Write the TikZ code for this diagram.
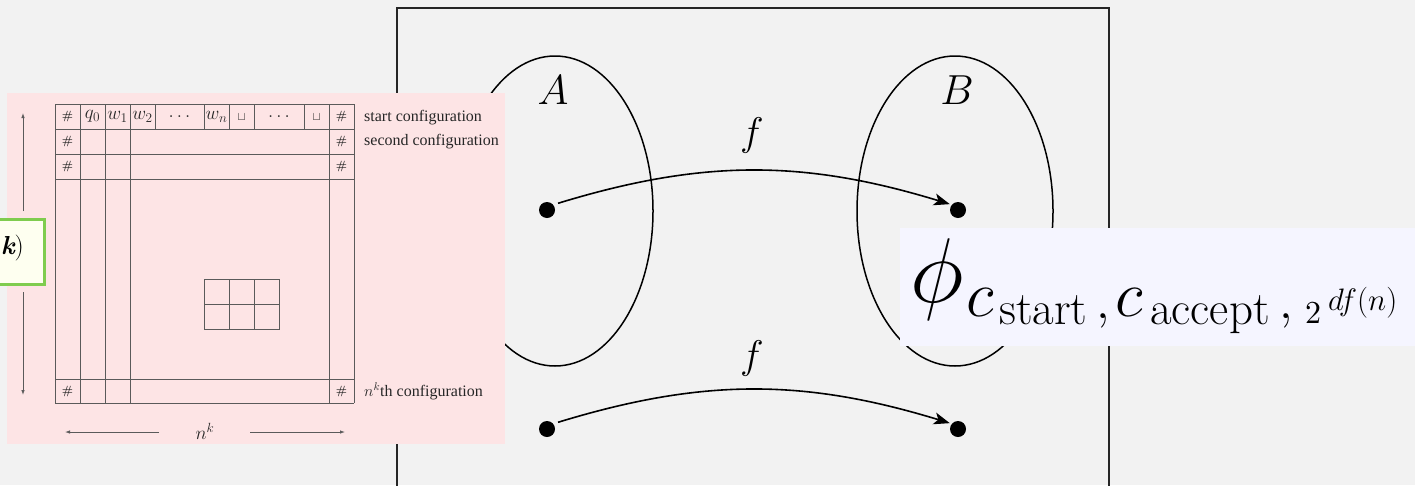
\RequirePackage{fix-cm}
\documentclass[tikz,border=0pt]{standalone}
\usepackage{fontspec}
\newfontfamily\garfont{Liberation Serif}
\usetikzlibrary{arrows.meta,calc}
\definecolor{bgc}{HTML}{F2F2F2}
\definecolor{pinkbg}{HTML}{FDE4E5}
\definecolor{bluebg}{HTML}{F5F5FF}
\definecolor{greenb}{HTML}{7FCC4E}
\definecolor{yellowbg}{HTML}{FEFFF0}
\definecolor{gridc}{HTML}{5A5A5A}
\tikzset{
  dot/.style={circle,fill=black,inner sep=0pt,minimum size=16pt},
  arr/.style={line width=1.6pt,-{Stealth[length=16pt,width=12pt,inset=4pt]},shorten <=5pt,shorten >=2pt},
  gl/.style={draw=gridc,line width=0.9pt},
  tarr/.style={draw=gridc,line width=0.8pt,-{Latex[length=5pt,width=3.5pt]}},
  cell/.style={inner sep=0pt,text=black!85,font=\fontsize{19}{19}\selectfont},
  hashc/.style={inner sep=0pt,text=black!85,font=\fontsize{12}{12}\selectfont\bfseries},
  lbl/.style={anchor=base west,inner sep=0pt,text=black!85,font=\garfont\fontsize{16}{18}\selectfont},
  pc/.style={anchor=base west,inner sep=0pt}
}
\begin{document}
\begin{tikzpicture}[x=1pt,y=-1pt]
\useasboundingbox (0,0) rectangle (1415,485);
\fill[bgc] (0,0) rectangle (1415,485);
% frame
\draw[line width=1.6pt,draw=black!85] (397,520) -- (397,8) -- (1109,8) -- (1109,520);
% ellipses
\node (EA) at (555,211) {};
\node (EB) at (955,211) {};
\draw[line width=1.5pt] (EA.center) ellipse [x radius=98, y radius=155];
\draw[line width=1.5pt] (EB.center) ellipse [x radius=98, y radius=155];
\node (lA) at (553,90) {\fontsize{42}{42}\selectfont$A$};
\node (lB) at (957,90) {\fontsize{42}{42}\selectfont$B$};
% dots
\node[dot] (a1) at (547,210) {};
\node[dot] (b1) at (958,210) {};
\node[dot] (a2) at (547,429) {};
\node[dot] (b2) at (958,429) {};
\draw[arr] (a1.40) to[bend left=17] (b1.140);
\draw[arr] (a2.40) to[bend left=17] (b2.140);
\node (f1) at (752,135) {\fontsize{40}{40}\selectfont$f$};
\node (f2) at (752,358) {\fontsize{40}{40}\selectfont$f$};
% pink panel with tableau
\fill[pinkbg] (7,93) rectangle (505,444);
\foreach \y in {104,129,154,179,379,403} \draw[gl] (55,\y) -- (354,\y);
\foreach \x in {55,80,105,130,329,354} \draw[gl] (\x,104) -- (\x,403);
\foreach \x in {155,204,229,254,304} \draw[gl] (\x,104) -- (\x,129);
\draw[gl] (204,279) rectangle (279,329);
\draw[gl] (229,279) -- (229,329);
\draw[gl] (254,279) -- (254,329);
\draw[gl] (204,304) -- (279,304);
% cells
\node[hashc] (h1) at (67.5,116.5) {\#};
\node[cell] (q0) at (92.5,116.5) {$q_0$};
\node[cell] (w1) at (117.5,116.5) {$w_1$};
\node[cell] (w2) at (142.5,116.5) {$w_2$};
\node[cell] (d1) at (179.5,116.5) {$\ldots$};
\node[cell] (wn) at (216.5,116.5) {$w_n$};
\node[cell,font=\fontsize{12}{12}\selectfont] (u1) at (241.5,117.5) {$\sqcup$};
\node[cell] (d2) at (279,116.5) {$\ldots$};
\node[cell,font=\fontsize{12}{12}\selectfont] (u2) at (316.5,117.5) {$\sqcup$};
\node[hashc] (h2) at (341.5,116.5) {\#};
\node[hashc] (h3) at (67.5,141.5) {\#};
\node[hashc] (h4) at (341.5,141.5) {\#};
\node[hashc] (h5) at (67.5,166.5) {\#};
\node[hashc] (h6) at (341.5,166.5) {\#};
\node[hashc] (h7) at (67.5,391) {\#};
\node[hashc] (h8) at (341.5,391) {\#};
\node[lbl] (t1) at (364,121) {start configuration};
\node[lbl] (t2) at (364,145) {second configuration};
\node[lbl] (t3) at (364,396) {$n^k$th configuration};
% tableau arrows
\coordinate (vt1) at (23,211); \coordinate (vt2) at (23,113);
\coordinate (vb1) at (23,292); \coordinate (vb2) at (23,395);
\draw[tarr] (vt1) -- (vt2);
\draw[tarr] (vb1) -- (vb2);
\node[cell] (nk) at (205,431) {$n^k$};
\coordinate (hl1) at (159,432); \coordinate (hl2) at (65,432);
\coordinate (hr1) at (250,432); \coordinate (hr2) at (345,432);
\draw[tarr] (hl1) -- (hl2);
\draw[tarr] (hr1) -- (hr2);
% green box
\draw[greenb,line width=3pt,fill=yellowbg] (-10,219.5) rectangle (44.5,284.5);
\node[anchor=base east,inner sep=0pt] (gk) at (24,254) {\fontsize{26}{26}\selectfont\bfseries\itshape k\normalfont)};
% blue box with phi
\fill[bluebg] (900,228) rectangle (1420,346);
\node[pc] (phi) at (910,302) {\fontsize{92}{92}\selectfont$\phi$};
\node[pc] (c1) at (966,316) {\fontsize{65}{65}\selectfont$c$};
\node[pc] (s1) at (999,324) {\fontsize{47}{47}\selectfont start};
\node[pc] (cm1) at (1096,318) {\fontsize{50}{50}\selectfont$,$};
\node[pc] (c2) at (1115,316) {\fontsize{65}{65}\selectfont$c$};
\node[pc] (s2) at (1150,324) {\fontsize{47}{47}\selectfont accept};
\node[pc] (cm2) at (1279,318) {\fontsize{50}{50}\selectfont$,$};
\node[pc] (two) at (1305,323) {\scalebox{3.2}{$2$}};
\node[pc] (ex) at (1328,310) {\fontsize{31}{31}\selectfont$df(n)$};
\end{tikzpicture}
\end{document}
